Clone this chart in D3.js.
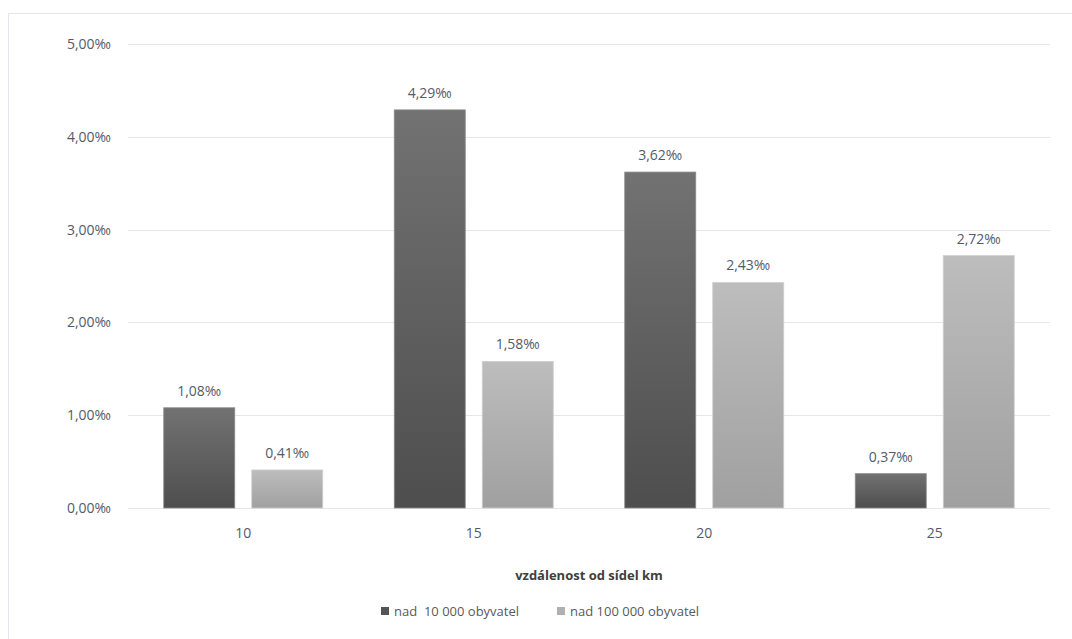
<!DOCTYPE html>
<html>
<head>
<meta charset="utf-8">
<script src="https://cdn.jsdelivr.net/npm/d3@7"></script>
<style>
  body { margin: 0; background: #fff; }
  text { font-family: "Open Sans", "Noto Sans", sans-serif; }
</style>
</head>
<body>
<div id="container"></div>
<script>
/* DATA */
const categories = ["10", "15", "20", "25"];
const seriesNames = ["nad  10 000 obyvatel", "nad 100 000 obyvatel"];
const small = [1.08, 4.29, 3.62, 0.37];
const large = [0.41, 1.58, 2.43, 2.72];
const yTicks = [0, 1, 2, 3, 4, 5];

/* CONSTANTS */
const width = 1072, height = 639,
      margin = {top: 44, left: 128, bottom: 131, right: 22};
const textColor = "#535b69";
const fmt = v => v.toFixed(2).replace(".", ",") + "‰";

const svg = d3.select("#container")
  .append("svg")
  .attr("width", width)
  .attr("height", height);

// chart frame
svg.append("rect")
  .attr("x", 8.5).attr("y", 13.5)
  .attr("width", width - 8).attr("height", height)
  .attr("fill", "none")
  .attr("stroke", "#e3e6ea");

// gradients
const defs = svg.append("defs");
const grads = [["gDark", "#727272", "#4e4e4e"], ["gLight", "#bdbdbd", "#a0a0a0"]];
grads.forEach(([id, c1, c2]) => {
  const g = defs.append("linearGradient").attr("id", id)
    .attr("x1", 0).attr("y1", 0).attr("x2", 0).attr("y2", 1);
  g.append("stop").attr("offset", "0%").attr("stop-color", c1);
  g.append("stop").attr("offset", "100%").attr("stop-color", c2);
});

// SCALES
const xScale = d3.scaleBand()
  .domain(categories)
  .range([margin.left, width - margin.right]);

const yScale = d3.scaleLinear()
  .domain([0, 5])
  .range([height - margin.bottom, margin.top]);

// grid
svg.append("g")
  .selectAll("line")
  .data(yTicks)
  .join("line")
  .attr("x1", margin.left).attr("x2", width - margin.right)
  .attr("y1", d => Math.round(yScale(d)) + 0.5)
  .attr("y2", d => Math.round(yScale(d)) + 0.5)
  .attr("stroke", "#e3e7ed");

// AXES
const yAxis = d3.axisLeft(yScale).tickValues(yTicks).tickFormat(fmt).tickSize(0).tickPadding(17);
svg.append("g")
  .attr("transform", `translate(${margin.left}, 0)`)
  .call(yAxis)
  .call(g => g.select(".domain").remove())
  .selectAll("text")
  .attr("fill", textColor)
  .style("font-size", "14px");

const xAxis = d3.axisBottom(xScale).tickSize(0).tickPadding(20);
svg.append("g")
  .attr("transform", `translate(0, ${height - margin.bottom})`)
  .call(xAxis)
  .call(g => g.select(".domain").remove())
  .selectAll("text")
  .attr("fill", textColor)
  .style("font-size", "14px");

// BARS
const barW = 71, gap = 17;
const series = [
  {name: seriesNames[0], values: small, fill: "url(#gDark)", stroke: "#8a8a8a", offset: -(gap / 2 + barW)},
  {name: seriesNames[1], values: large, fill: "url(#gLight)", stroke: "#cfcfcf", offset: gap / 2}
];

series.forEach(s => {
  const cx = c => xScale(c) + xScale.bandwidth() / 2 + s.offset;
  svg.append("g")
    .selectAll("rect")
    .data(categories.map((c, i) => ({c, v: s.values[i]})))
    .join("rect")
    .attr("x", d => cx(d.c))
    .attr("y", d => yScale(d.v))
    .attr("width", barW)
    .attr("height", d => yScale(0) - yScale(d.v))
    .attr("fill", s.fill)
    .attr("stroke", s.stroke)
    .attr("stroke-width", 0.8);

  svg.append("g")
    .selectAll("text")
    .data(categories.map((c, i) => ({c, v: s.values[i]})))
    .join("text")
    .attr("x", d => cx(d.c) + barW / 2)
    .attr("y", d => yScale(d.v) - 12)
    .attr("text-anchor", "middle")
    .attr("fill", textColor)
    .style("font-size", "14px")
    .text(d => fmt(d.v));
});

// axis title
svg.append("text")
  .attr("x", (margin.left + width - margin.right) / 2)
  .attr("y", 580)
  .attr("text-anchor", "middle")
  .attr("fill", "#404040")
  .style("font-size", "13px")
  .style("font-weight", "bold")
  .text("vzdálenost od sídel km");

// LEGEND
const legendX = [381, 557];
const legendColors = ["#555555", "#b0b0b0"];
const legend = svg.append("g");
seriesNames.forEach((n, i) => {
  legend.append("rect")
    .attr("x", legendX[i]).attr("y", 607)
    .attr("width", 8).attr("height", 8)
    .attr("fill", legendColors[i]);
  legend.append("text")
    .attr("x", legendX[i] + 13).attr("y", 616)
    .attr("fill", "#595959")
    .style("font-size", "13px")
    .attr("xml:space", "preserve")
    .text(n);
});
</script>
</body>
</html>
